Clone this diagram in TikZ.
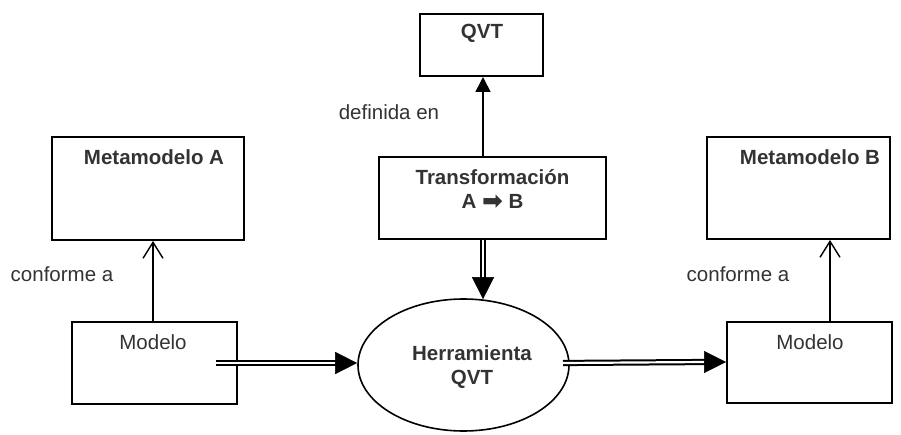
\documentclass[tikz,border=0pt]{standalone}
\usepackage{fontspec}
\setmainfont{Liberation Sans}
\newfontfamily\symfont{DejaVu Sans}
\usetikzlibrary{arrows.meta,shapes.geometric}
\definecolor{ink}{rgb}{0.2,0.2,0.2}
\begin{document}
\begin{tikzpicture}[x=1pt,y=-1pt,
  box/.style={draw, line width=2pt, rectangle, inner sep=0pt},
  oval/.style={draw, line width=1.6pt, ellipse, inner sep=0pt},
  lbl/.style={text=ink, font=\fontsize{20.5}{24}\selectfont, align=center, inner sep=0pt},
  hd/.style={lbl, font=\fontsize{20.5}{24}\selectfont\bfseries},
  conf/.style={line width=1.4pt, -{Straight Barb[length=16pt,width=20pt,line width=1.4pt]}},
  defn/.style={line width=1.6pt, -{Triangle[length=15pt,width=15pt]}},
  dbl/.style={line width=2pt, double, double distance=2.2pt},
  bigtip/.style={line width=0.5pt, -{Triangle[length=22pt,width=22pt]}}
]
\useasboundingbox (0,0) rectangle (901,435);
\fill[white] (0,0) rectangle (901,435);

% metamodels
\node[box, minimum width=192pt, minimum height=103pt,
      label={[hd, xshift=6pt, yshift=31.5pt]center:Metamodelo A}] (ma) at (148,188.5) {};
\node[box, minimum width=183pt, minimum height=102pt,
      label={[hd, xshift=11.5pt, yshift=31pt]center:Metamodelo B}] (mb) at (798.5,188) {};

% models
\node[box, minimum width=165pt, minimum height=82pt,
      label={[lbl, xshift=-1.5pt, yshift=21pt]center:Modelo}] (m1) at (154.5,363) {};
\node[box, minimum width=165pt, minimum height=81pt,
      label={[lbl, xshift=0.5pt, yshift=20.5pt]center:Modelo}] (m2) at (809.5,362.5) {};

% language and transformation
\node[box, minimum width=123pt, minimum height=62pt,
      label={[hd, xshift=0.5pt, yshift=12pt]center:QVT}] (q) at (481.5,45) {};
\node[box, minimum width=227pt, minimum height=82pt,
      label={[hd, yshift=9pt]center:Transformación\\A {\symfont\fontsize{25}{24}\selectfont\raisebox{-1pt}{➡}} B}] (t) at (492.5,198) {};

% tool
\node[oval, minimum width=211pt, minimum height=132pt,
      label={[hd, xshift=8.5pt, yshift=-2.5pt]center:Herramienta\\QVT}] (e) at (463.5,365) {};

% relation labels
\node[lbl] (ldef) at (389,112) {definida en};
\node[lbl] (lca) at (62,274) {conforme a};
\node[lbl] (lcb) at (738,274) {conforme a};

% conformance
\draw[conf] ([xshift=-1.5pt]m1.north) -- ([xshift=5pt]ma.south);
\draw[conf] ([xshift=20.5pt]m2.north) -- ([xshift=31.5pt]mb.south);

% definition
\draw[defn] ([xshift=-9.5pt]t.north) -- ([xshift=1.5pt]q.south);

% data flow (double lines)
\coordinate (s1) at (216,363);
\coordinate (s2) at (563,363);
\draw[dbl] (s1) -- ([xshift=-20pt,yshift=2pt]e.west);
\draw[bigtip] ([xshift=-22pt,yshift=2pt]e.west) -- ([yshift=2pt]e.west);
\draw[dbl] (s2) -- ([xshift=-20pt,yshift=0.5pt]m2.west);
\draw[bigtip] ([xshift=-22pt,yshift=0.5pt]m2.west) -- ([yshift=0.5pt]m2.west);
\draw[dbl] ([xshift=-9.5pt]t.south) -- ([xshift=19.5pt,yshift=19pt]e.north);
\draw[bigtip] ([xshift=19.5pt,yshift=21pt]e.north) -- ([xshift=19.5pt,yshift=-1pt]e.north);
\end{tikzpicture}
\end{document}
